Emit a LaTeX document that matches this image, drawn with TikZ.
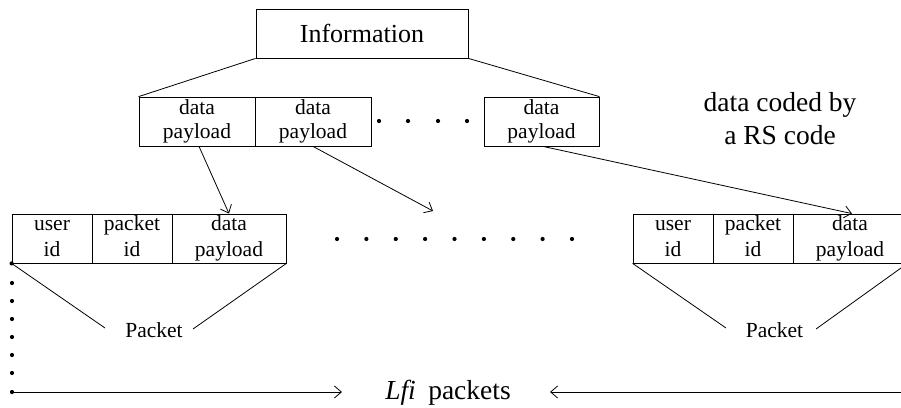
\documentclass[tikz,border=0pt]{standalone}
\usepackage{fontspec}
\setmainfont{Liberation Serif}
\usetikzlibrary{arrows.meta,calc}
\begin{document}
\begin{tikzpicture}[x=1pt,y=-1pt,
  line width=0.8pt,
  cell/.style={draw, inner sep=0pt, minimum height=49pt, align=center, font=\fontsize{21.5}{24}\selectfont},
  pcell/.style={cell, font=\fontsize{21.5}{25.5}\selectfont},
  dotmark/.style={circle, fill, inner sep=0pt, minimum size=4.2pt},
  arr/.style={-{Straight Barb[length=7pt,width=12pt]}},
  lbl/.style={inner sep=0pt, anchor=base, font=\fontsize{21.5}{24}\selectfont}
  ]
\useasboundingbox (0,0) rectangle (901,407);
% top
\node[draw, minimum width=212pt, minimum height=49pt, inner sep=0pt, font=\fontsize{26}{30}\selectfont] (info) at (362,33.5) {Information};
\node[cell, minimum width=116pt] (d1) at (197,121.5) {data\\payload};
\node[cell, minimum width=116pt] (d2) at (313,121.5) {data\\payload};
\node[cell, minimum width=115pt] (d3) at (541.5,121.5) {data\\payload};
\foreach \x [count=\i] in {379,408,438,467} \node[dotmark] (td\i) at (\x,121) {};
\node[align=center, inner sep=0pt, font=\fontsize{27.5}{33}\selectfont] (rs) at (780,118.5) {data coded by\\a RS code};
\draw (info.south west) -- (d1.north west);
\draw (info.south east) -- (d3.north east);
% left packet
\node[pcell, minimum width=80pt] (l1) at (52,238.5) {user\vphantom{d}\\id\vphantom{y}};
\node[pcell, minimum width=80pt] (l2) at (132,238.5) {packet\\id\vphantom{y}};
\node[pcell, minimum width=114pt] (l3) at (229,238.5) {data\\payload};
% right packet
\node[pcell, minimum width=80pt] (r1) at (673,238.5) {user\vphantom{d}\\id\vphantom{y}};
\node[pcell, minimum width=80pt] (r2) at (753,238.5) {packet\\id\vphantom{y}};
\node[pcell, minimum width=114pt] (r3) at (850,238.5) {data\\payload};
% middle dots
\foreach \i in {0,...,8} \node[dotmark] (md\i) at (337+29.375*\i,239) {};
% arrows from payloads
\coordinate (a2) at (433,211);
\draw[arr] ($(d1.south)+(2,0)$) -- (l3.north);
\draw[arr] (d2.south) -- (a2);
\draw[arr] ($(d3.south)+(1.5,0)$) -- ($(r3.north)+(2,0)$);
% packet labels
\node[lbl] (pl) at (154,337) {Packet};
\node[lbl] (pr) at (774.5,337) {Packet};
\coordinate (pl1) at (105,328);
\coordinate (pl2) at (193,329);
\coordinate (pr1) at (726,328);
\coordinate (pr2) at (816,329);
\draw (l1.south west) -- (pl1);
\draw (l3.south east) -- (pl2);
\draw (r1.south west) -- (pr1);
\draw (r3.south east) -- (pr2);
% vertical dots
\node[dotmark] (v0) at (l1.south west) {};
\foreach \y [count=\i] in {283,301,319,337,355,373} \node[dotmark] (v\i) at (12,\y) {};
\node[dotmark] (v7) at (12,392) {};
% bottom arrows
\node[inner sep=0pt, anchor=base, font=\fontsize{27.5}{30}\selectfont] (lfi) at (448,399) {\textit{Lfi}\hspace{0.45em}packets};
\coordinate (ae) at (342,392);
\coordinate (rs0) at (901,392);
\coordinate (re) at (550,392);
\draw[arr] (v7.center) -- (ae);
\draw[arr] (rs0) -- (re);
\end{tikzpicture}
\end{document}
